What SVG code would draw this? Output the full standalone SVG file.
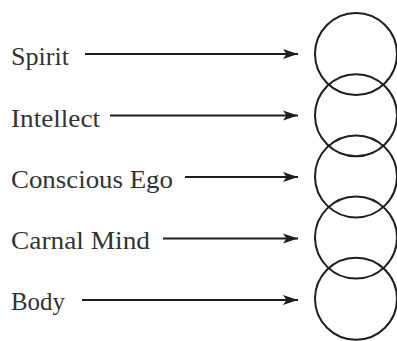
<svg xmlns="http://www.w3.org/2000/svg" width="397" height="341" viewBox="0 0 397 341">
<style>
text{font-family:"Liberation Serif","Times New Roman",serif;font-size:25px;fill:#333}
.c{fill:none;stroke:#1e1e1e;stroke-width:2}
.a{stroke:#1e1e1e;stroke-width:2.2;fill:none}
</style>
<defs>
<marker id="ah" markerUnits="userSpaceOnUse" markerWidth="16" markerHeight="12" refX="15" refY="6" orient="auto">
<path d="M0,1 L15,6 L0,11 L3.5,6 Z" fill="#1e1e1e"/>
</marker>
</defs>
<rect width="397" height="341" fill="#fff"/>
<g id="spirit"><text x="11" y="65" textLength="58" lengthAdjust="spacingAndGlyphs">Spirit</text><circle class="c" cx="356" cy="54" r="41"/></g>
<g id="intellect"><text x="11" y="126.5" textLength="89" lengthAdjust="spacingAndGlyphs">Intellect</text><circle class="c" cx="356" cy="115.2" r="41"/></g>
<g id="conscious-ego"><text x="11" y="188" textLength="162" lengthAdjust="spacingAndGlyphs">Conscious Ego</text><circle class="c" cx="356" cy="176.4" r="41"/></g>
<g id="carnal-mind"><text x="11" y="249" textLength="139" lengthAdjust="spacingAndGlyphs">Carnal Mind</text><circle class="c" cx="356" cy="237.6" r="41"/></g>
<g id="body"><text x="11" y="310" textLength="54" lengthAdjust="spacingAndGlyphs">Body</text><circle class="c" cx="356" cy="298.8" r="41"/></g>
<g id="connectors">
<line class="a" x1="85" y1="54" x2="298" y2="54" marker-end="url(#ah)"/>
<line class="a" x1="110" y1="115.5" x2="298" y2="115.5" marker-end="url(#ah)"/>
<line class="a" x1="185" y1="177" x2="298" y2="177" marker-end="url(#ah)"/>
<line class="a" x1="163" y1="238.5" x2="298" y2="238.5" marker-end="url(#ah)"/>
<line class="a" x1="82" y1="300" x2="298" y2="300" marker-end="url(#ah)"/>
</g>
</svg>
